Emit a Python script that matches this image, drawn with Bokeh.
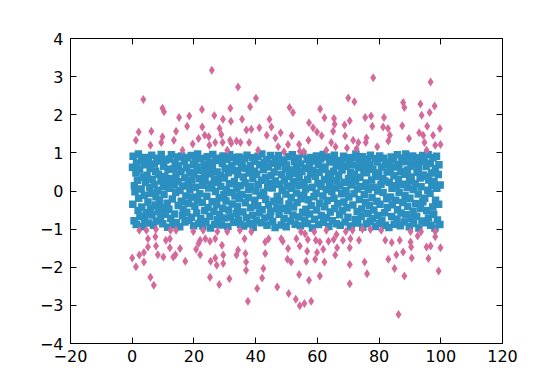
from bokeh.plotting import figure
from bokeh.models import Range1d, LinearAxis, FixedTicker, CustomJSTickFormatter, ColumnDataSource
from bokeh.embed import file_html
from bokeh.resources import INLINE

# ---------------- data ----------------
x_ticks = [-20, 0, 20, 40, 60, 80, 100, 120]
y_ticks = [-4, -3, -2, -1, 0, 1, 2, 3, 4]

blue_x = [
    0.1,0.2,0.3,0.6,0.7,0.9,1.2,1.3,1.4,1.7,1.9,
    2.0,2.1,2.4,2.5,2.9,3.0,3.1,3.2,3.6,3.8,3.9,
    4.0,4.3,4.4,4.5,4.8,5.1,5.2,5.3,5.7,5.8,5.9,
    6.2,6.3,6.4,6.5,6.9,7.1,7.2,7.5,7.6,7.7,7.8,
    8.0,8.3,8.4,8.5,8.8,8.9,9.2,9.3,9.4,9.8,9.9,
    10.1,10.2,10.3,10.6,10.8,10.9,11.3,11.4,11.5,11.6,11.9,
    12.0,12.1,12.5,12.6,12.7,13.0,13.2,13.3,13.6,13.7,13.9,
    14.1,14.2,14.3,14.7,14.8,14.9,15.0,15.4,15.5,15.8,15.9,
    16.0,16.3,16.4,16.5,16.9,17.0,17.1,17.4,17.6,17.7,17.8,
    18.2,18.3,18.4,18.6,18.7,19.1,19.2,19.3,19.6,19.8,19.9,
    20.0,20.3,20.4,20.5,20.9,21.0,21.1,21.2,21.6,21.7,21.9,
    22.0,22.2,22.3,22.7,22.8,22.9,23.3,23.4,23.5,23.6,23.9,
    24.1,24.2,24.3,24.6,24.8,24.9,25.2,25.3,25.4,25.8,25.9,
    26.0,26.1,26.5,26.6,26.7,27.0,27.1,27.4,27.5,27.7,27.8,
    28.1,28.2,28.3,28.6,28.7,28.9,29.2,29.3,29.4,29.7,29.9,
    30.0,30.1,30.4,30.5,30.6,31.0,31.1,31.2,31.5,31.6,31.9,
    32.0,32.3,32.4,32.5,32.8,33.1,33.2,33.3,33.7,33.8,33.9,
    34.1,34.2,34.5,34.6,34.7,35.0,35.1,35.4,35.5,35.6,35.9,
    36.0,36.1,36.4,36.6,36.7,37.0,37.1,37.2,37.6,37.7,37.9,
    38.0,38.3,38.4,38.5,38.9,39.0,39.1,39.2,39.6,39.7,39.8,
    40.1,40.2,40.3,40.7,40.8,40.9,41.2,41.3,41.5,41.8,41.9,
    42.0,42.1,42.5,42.6,42.7,43.0,43.2,43.3,43.6,43.7,43.9,
    44.1,44.2,44.3,44.7,44.8,44.9,45.0,45.4,45.5,45.8,45.9,
    46.0,46.3,46.4,46.5,46.9,47.0,47.1,47.4,47.6,47.7,47.8,
    48.2,48.3,48.4,48.6,48.7,49.1,49.2,49.3,49.6,49.8,49.9,
    50.0,50.2,50.3,50.7,50.8,50.9,51.3,51.4,51.5,51.6,51.9,
    52.1,52.2,52.3,52.6,52.8,52.9,53.2,53.3,53.4,53.8,53.9,
    54.0,54.1,54.5,54.6,54.7,55.0,55.2,55.3,55.6,55.7,55.9,
    56.1,56.2,56.3,56.7,56.8,56.9,57.0,57.4,57.5,57.8,57.9,
    58.0,58.3,58.4,58.5,58.9,59.0,59.1,59.4,59.6,59.7,59.8,
    60.2,60.3,60.4,60.6,60.7,61.1,61.2,61.3,61.6,61.8,61.9,
    62.0,62.3,62.4,62.5,62.9,63.0,63.1,63.2,63.6,63.7,63.9,
    64.0,64.2,64.3,64.7,64.8,64.9,65.3,65.4,65.5,65.6,65.9,
    66.1,66.2,66.3,66.6,66.8,66.9,67.2,67.3,67.4,67.8,67.9,
    68.0,68.1,68.5,68.6,68.7,69.0,69.2,69.3,69.6,69.7,69.9,
    70.1,70.2,70.3,70.7,70.8,70.9,71.0,71.4,71.5,71.8,71.9,
    72.0,72.3,72.4,72.5,72.9,73.0,73.1,73.4,73.6,73.7,73.8,
    74.2,74.3,74.4,74.6,74.7,75.1,75.2,75.3,75.6,75.8,75.9,
    76.0,76.3,76.4,76.5,76.9,77.0,77.1,77.2,77.6,77.7,77.9,
    78.0,78.2,78.3,78.7,78.8,78.9,79.3,79.4,79.5,79.6,79.9,
    80.1,80.2,80.3,80.6,80.8,80.9,81.2,81.3,81.4,81.8,81.9,
    82.0,82.1,82.5,82.6,82.7,83.0,83.2,83.3,83.6,83.7,83.9,
    84.1,84.2,84.3,84.7,84.8,84.9,85.0,85.4,85.5,85.8,85.9,
    86.0,86.3,86.4,86.5,86.9,87.0,87.1,87.4,87.6,87.7,87.8,
    88.2,88.3,88.4,88.6,88.7,89.1,89.2,89.3,89.6,89.8,89.9,
    90.0,90.3,90.4,90.5,90.9,91.0,91.1,91.2,91.6,91.7,91.9,
    92.0,92.2,92.3,92.7,92.8,92.9,93.3,93.4,93.5,93.6,93.9,
    94.1,94.2,94.3,94.6,94.8,94.9,95.2,95.3,95.4,95.8,95.9,
    96.0,96.1,96.5,96.6,96.7,97.0,97.1,97.4,97.5,97.7,97.8,
    98.1,98.2,98.3,98.6,98.7,98.9,99.2,99.3,99.4,99.7,99.8,
]

blue_y = [
    0.62,-0.35,0.91,-0.78,0.14,-0.02,0.47,-0.88,0.73,0.28,-0.51,0.97,-0.19,0.55,-0.67,0.05,0.83,-0.42,-0.93,0.36,0.69,-0.11,-0.74,0.22,0.88,-0.57,0.41,-0.29,0.76,-0.84,0.09,0.59,-0.46,-0.06,0.94,-0.63,0.31,-0.90,0.17,0.71,-0.37,0.52,-0.15,-0.79,0.86,0.02,-0.54,0.44,-0.25,0.79,-0.70,0.26,0.96,-0.44,-0.86,0.11,0.65,-0.09,0.38,-0.61,0.81,-0.32,0.19,-0.95,0.57,
    -0.48,0.84,0.07,-0.72,0.33,0.95,-0.21,-0.89,0.58,0.16,-0.60,0.74,-0.04,0.42,-0.83,0.89,0.24,-0.38,0.66,-0.94,0.01,0.51,-0.27,0.92,-0.65,0.13,-0.47,0.78,0.35,-0.81,-0.13,0.61,-0.56,0.87,0.20,-0.33,-0.77,0.49,0.04,0.93,-0.69,0.29,-0.16,0.70,-0.91,0.46,-0.40,0.82,0.10,-0.58,0.63,-0.23,0.97,-0.85,0.32,-0.07,0.54,-0.73,0.85,-0.30,0.15,-0.92,0.68,0.39,-0.52,
    0.27,-0.80,0.56,-0.14,0.90,-0.43,0.08,0.75,-0.66,0.45,-0.97,0.18,-0.28,0.64,0.96,-0.53,0.30,-0.87,-0.01,0.80,-0.36,0.50,-0.75,0.23,0.86,-0.18,-0.62,0.40,0.12,-0.89,0.72,-0.45,0.92,-0.10,0.34,-0.71,0.60,-0.26,0.03,0.83,-0.93,0.48,-0.50,0.19,0.95,-0.68,-0.04,0.67,-0.34,0.88,-0.82,0.25,0.53,-0.13,-0.59,0.77,0.06,-0.41,0.43,-0.76,0.89,-0.20,0.14,-0.88,0.61,
    -0.09,0.70,-0.55,0.37,-0.92,0.85,0.21,-0.31,0.59,-0.70,0.94,-0.17,0.04,0.47,-0.86,0.66,-0.44,0.11,0.87,-0.64,0.32,-0.95,0.52,-0.24,0.78,0.00,-0.78,0.44,-0.39,0.91,0.17,-0.58,0.69,-0.12,-0.83,0.28,0.97,-0.49,0.56,-0.03,0.74,-0.71,0.35,-0.22,0.82,-0.90,0.09,0.63,-0.37,0.19,-0.66,0.93,-0.53,0.40,0.08,-0.80,0.73,-0.27,0.50,-0.96,0.26,0.84,-0.46,-0.14,0.65,
    0.93,-0.61,0.18,-0.26,0.74,-0.89,0.43,0.02,-0.45,0.81,-0.73,0.29,0.58,-0.08,-0.94,0.68,0.13,-0.52,0.90,-0.34,0.38,-0.79,0.55,-0.17,0.07,0.95,-0.63,0.24,-0.42,0.77,-0.87,0.46,-0.05,0.62,-0.30,0.86,-0.68,0.15,0.34,-0.91,0.71,-0.20,0.51,-0.56,0.97,-0.11,0.22,-0.76,0.60,0.05,-0.48,0.83,-0.85,0.31,-0.23,0.67,-0.60,0.45,0.88,-0.38,0.10,-0.97,0.54,-0.15,0.79,
    -0.74,0.39,-0.06,0.92,-0.50,0.20,0.70,-0.88,0.49,-0.32,0.84,0.12,-0.64,0.57,-0.13,0.96,-0.82,0.30,-0.41,0.63,0.03,-0.70,0.89,-0.25,0.45,-0.93,0.17,0.76,-0.55,0.35,-0.01,0.85,-0.78,0.52,-0.19,0.94,-0.46,0.08,0.66,-0.86,0.27,-0.33,0.80,0.41,-0.62,0.13,-0.90,0.72,-0.07,0.55,-0.52,0.91,-0.29,0.23,-0.81,0.64,0.01,-0.44,0.87,-0.69,0.33,-0.16,0.75,-0.94,0.48,
    0.16,-0.92,0.68,-0.37,0.88,-0.07,0.43,-0.75,0.25,0.97,-0.54,0.05,-0.84,0.61,-0.22,0.79,0.36,-0.66,0.12,-0.47,0.90,-0.95,0.54,-0.10,0.72,-0.31,0.21,-0.86,0.48,0.83,-0.59,0.03,-0.39,0.66,-0.80,0.94,0.29,-0.18,-0.72,0.57,0.10,-0.50,0.85,-0.93,0.39,-0.27,0.76,0.00,-0.64,0.47,-0.85,0.92,-0.35,0.18,0.63,-0.77,0.32,-0.04,0.86,-0.57,0.26,-0.90,0.70,-0.20,0.50,
    -0.43,0.75,-0.96,0.22,0.58,-0.16,0.89,-0.67,0.07,-0.36,0.82,0.40,-0.87,0.63,-0.24,0.14,-0.74,0.95,-0.49,0.31,0.69,-0.03,-0.91,0.51,-0.58,0.86,0.18,-0.30,0.77,-0.81,0.44,-0.12,0.97,-0.62,0.09,0.55,-0.40,0.80,-0.94,0.27,-0.19,0.65,0.37,-0.73,0.92,-0.53,0.04,-0.85,0.71,0.20,-0.33,0.87,-0.66,0.49,-0.08,0.60,-0.97,0.34,-0.45,0.78,0.11,-0.79,0.93,-0.28,0.42,
    0.81,-0.19,0.38,-0.83,0.64,-0.51,0.02,0.95,-0.71,0.29,-0.06,0.73,-0.90,0.47,0.15,-0.42,0.87,-0.61,0.24,-0.97,0.59,-0.24,0.91,0.07,-0.76,0.43,-0.35,0.69,-0.88,0.16,
]

pink_upper_left_x = [25.8,34.3,3.6,40.1,9.8,10.3,22.6,31.8,38.2,51.0,15.2,18.5,26.6,29.4,32.0,35.6,44.5,17.8,22.7,28.3,37.0,38.6,41.2,45.1,2.1,6.2,14.2,48.1,1.2,9.8,13.5,21.5,23.5,24.8,28.9,31.7,33.8,43.6,46.4,5.9,9.4,19.6,25.0,26.9,29.3,32.1,35.1,37.9,47.3,50.5,16.3,40.8,30.8,49.2]
pink_upper_left_y = [3.17,2.73,2.40,2.43,2.17,2.08,2.14,2.17,2.21,2.19,1.93,1.97,1.98,1.88,1.83,1.88,1.88,1.70,1.68,1.64,1.60,1.62,1.66,1.68,1.55,1.57,1.57,1.53,1.33,1.42,1.33,1.38,1.46,1.42,1.48,1.33,1.31,1.46,1.39,1.20,1.27,1.23,1.20,1.27,1.27,1.25,1.27,1.27,1.16,1.22,1.07,1.07,1.07,1.03]

pink_upper_right_x = [78.1,96.7,70.0,72.0,52.1,60.9,87.8,88.2,93.4,98.0,96.4,93.8,62.3,65.4,70.5,75.5,77.4,81.6,57.3,58.6,65.6,68.8,77.8,81.3,82.9,87.5,95.6,99.7,51.7,59.9,61.4,65.1,69.0,75.9,83.5,93.0,94.3,97.5,54.1,57.1,64.5,71.6,73.3,75.7,83.0,89.7,94.7,98.2,99.9,54.3,55.6,62.9,65.9,72.7,79.4,95.4,69.6]
pink_upper_right_y = [2.97,2.86,2.44,2.34,2.06,2.15,2.32,2.19,2.28,2.23,2.06,1.99,1.92,1.90,1.84,1.93,1.97,1.93,1.79,1.66,1.75,1.73,1.70,1.68,1.64,1.71,1.70,1.64,1.45,1.55,1.45,1.57,1.44,1.39,1.46,1.53,1.46,1.46,1.22,1.33,1.27,1.33,1.27,1.27,1.31,1.38,1.27,1.20,1.22,1.04,1.03,1.07,1.16,1.11,1.16,1.07,1.13]

pink_lower_left_x = [2.3,4.6,7.7,12.4,14.2,19.8,23.0,27.6,30.8,34.9,38.6,5.1,7.5,10.9,12.2,22.0,23.7,25.2,26.9,36.4,44.2,48.3,48.8,5.1,7.7,12.2,15.5,20.7,21.5,29.1,34.3,43.1,50.5,2.3,3.8,8.3,10.1,13.3,14.0,22.0,33.8,36.7,43.1,0.0,1.2,3.8,17.2,25.4,26.9,27.4,29.5,29.5,36.9,36.9,42.5,50.3,5.9,7.0,25.2,28.2,31.5,42.1,40.5,47.0,50.7,37.5]
pink_lower_left_y = [-1.03,-1.03,-1.00,-1.03,-1.03,-1.06,-1.03,-1.06,-1.06,-1.03,-1.07,-1.25,-1.20,-1.29,-1.25,-1.29,-1.25,-1.32,-1.25,-1.25,-1.25,-1.25,-1.32,-1.47,-1.44,-1.49,-1.51,-1.53,-1.38,-1.42,-1.55,-1.34,-1.51,-1.68,-1.61,-1.67,-1.73,-1.73,-1.67,-1.67,-1.68,-1.64,-1.64,-1.76,-1.99,-1.86,-1.84,-1.84,-1.76,-1.95,-1.68,-1.90,-1.86,-2.08,-2.03,-1.79,-2.26,-2.47,-2.26,-2.45,-2.30,-2.28,-2.56,-2.52,-2.69,-2.89]

pink_lower_right_x = [54.7,56.0,59.0,62.9,66.2,69.2,71.4,74.6,77.2,80.7,90.2,93.6,98.2,53.2,56.9,59.5,60.8,63.6,65.3,68.3,70.7,73.5,82.0,84.1,86.7,90.2,92.5,98.2,54.3,56.7,59.9,61.9,66.4,70.5,85.6,87.8,90.4,95.4,96.7,99.9,51.5,56.4,59.3,62.3,65.8,70.5,75.3,83.0,90.6,96.0,85.0,54.1,60.8,57.3,76.1,88.2,99.3,70.5,53.0,54.3,55.8,58.0,86.3]
pink_lower_right_y = [-1.07,-1.12,-1.07,-1.03,-1.14,-1.06,-1.03,-1.00,-1.01,-1.03,-1.06,-1.07,-1.06,-1.25,-1.27,-1.29,-1.34,-1.32,-1.27,-1.29,-1.25,-1.29,-1.29,-1.35,-1.29,-1.34,-1.18,-1.20,-1.44,-1.58,-1.61,-1.53,-1.49,-1.49,-1.67,-1.60,-1.47,-1.47,-1.44,-1.49,-1.86,-1.84,-1.79,-1.86,-1.68,-1.93,-1.86,-1.79,-1.76,-1.77,-2.03,-2.19,-2.23,-2.34,-2.17,-2.23,-2.10,-2.43,-2.84,-3.01,-2.95,-2.89,-3.24]

BLUE = "#2b8fc0"
PINK = "#d4699c"

# ---------------- figure ----------------
p = figure(width=548, height=374, output_backend="svg", toolbar_location=None,
           x_range=Range1d(-20, 120), y_range=Range1d(-4, 4),
           min_border_left=70, min_border_right=46, min_border_top=38, min_border_bottom=31,
           background_fill_color="white", border_fill_color="white")
p.grid.visible = False
p.outline_line_color = "black"
p.outline_line_width = 1

minus_fmt = "return (tick < 0 ? '\\u2212' : '') + Math.abs(tick).toString();"

def style_axis(ax, ticks, show_labels):
    ax.ticker = FixedTicker(ticks=ticks)
    ax.major_tick_in = 6
    ax.major_tick_out = 0
    ax.minor_tick_line_color = None
    ax.axis_line_color = "black"
    ax.major_tick_line_color = "black"
    ax.major_label_text_font = "DejaVu Sans"
    ax.major_label_text_font_size = "16px"
    ax.major_label_text_color = "black"
    if show_labels:
        ax.formatter = CustomJSTickFormatter(code=minus_fmt)
    else:
        ax.formatter = CustomJSTickFormatter(code="return '';")

style_axis(p.xaxis[0], x_ticks, True)
p.xaxis[0].major_label_standoff = 6
style_axis(p.yaxis[0], y_ticks, True)
p.yaxis[0].major_label_standoff = 7

top_ax = LinearAxis()
style_axis(top_ax, x_ticks, False)
p.add_layout(top_ax, "above")
right_ax = LinearAxis()
style_axis(right_ax, y_ticks, False)
p.add_layout(right_ax, "right")

n = min(len(blue_x), len(blue_y))
blue_src = ColumnDataSource(dict(x=blue_x[:n], y=blue_y[:n]))
p.scatter("x", "y", source=blue_src, marker="square", size=7.5,
          fill_color=BLUE, line_color=None)

pink_x = pink_upper_left_x + pink_upper_right_x + pink_lower_left_x + pink_lower_right_x
pink_y = pink_upper_left_y + pink_upper_right_y + pink_lower_left_y + pink_lower_right_y
pink_src = ColumnDataSource(dict(x=pink_x, y=pink_y))
p.scatter("x", "y", source=pink_src, marker="diamond", size=9,
          fill_color=PINK, line_color=None)

open("out.html", "w").write(file_html(p, INLINE))
